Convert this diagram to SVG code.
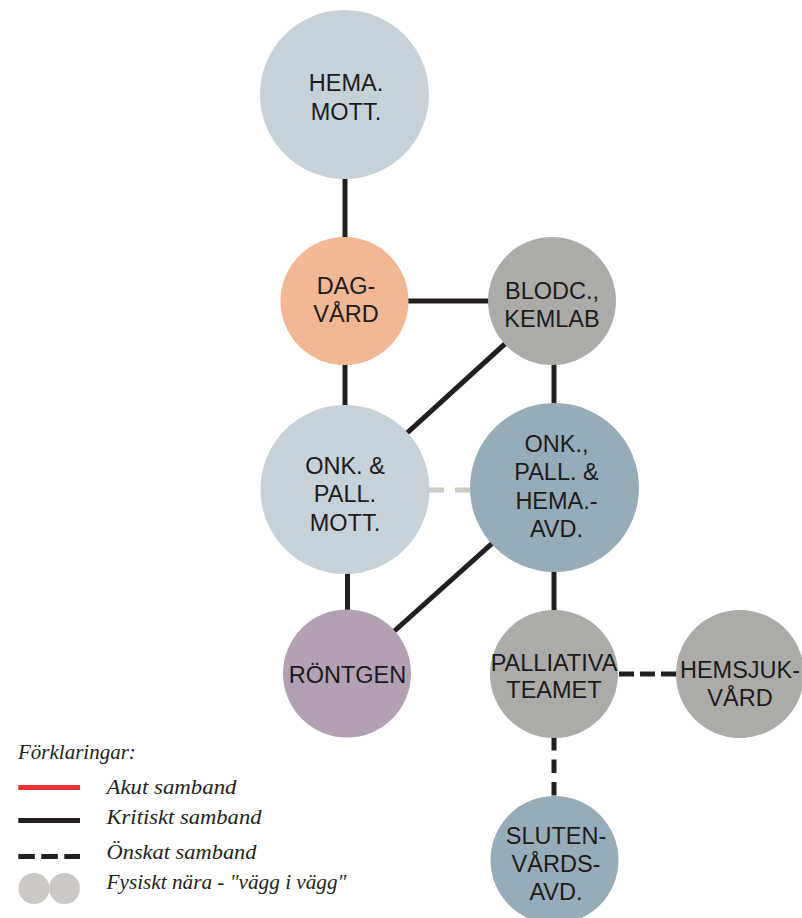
<svg xmlns="http://www.w3.org/2000/svg" width="802" height="918" viewBox="0 0 802 918">
  <style>
    .link { stroke: #231f20; stroke-width: 5; fill: none; }
    .wish { stroke: #231f20; stroke-width: 5; fill: none; }
    .near { stroke: #cdcac5; stroke-width: 5; fill: none; }
    .lbl { font-family: "Liberation Sans", Arial, sans-serif; font-size: 23.5px; fill: #1d1b1c; text-anchor: middle; }
    .leg { font-family: "Liberation Serif", "Times New Roman", serif; font-style: italic; font-size: 21px; fill: #231f20; }
    .mott { fill: #c5d2da; }
    .dag { fill: #f2b793; }
    .grey { fill: #acaba7; }
    .avd { fill: #96adb9; }
    .rtg { fill: #b3a0b4; }
  </style>

  <rect width="802" height="918" fill="#ffffff"/>

  <!-- connectors -->
  <g id="connectors">
    <line class="link" x1="345" y1="170" x2="345" y2="245"/>
    <line class="link" x1="400" y1="301" x2="495" y2="301"/>
    <line class="link" x1="345" y1="355" x2="345" y2="415"/>
    <line class="link" x1="552" y1="301" x2="345" y2="489.5"/>
    <line class="link" x1="554" y1="355" x2="554" y2="415"/>
    <line class="near" x1="429" y1="490" x2="470" y2="490" stroke-dasharray="15 11"/>
    <line class="link" x1="347.5" y1="565" x2="347.5" y2="620"/>
    <line class="link" x1="347" y1="673.5" x2="554.5" y2="487.5"/>
    <line class="link" x1="554" y1="565" x2="554" y2="620"/>
    <line class="wish" x1="619" y1="674" x2="677" y2="674" stroke-dasharray="15 6"/>
    <line class="wish" x1="554" y1="737" x2="554" y2="797" stroke-dasharray="13.5 9"/>
  </g>

  <!-- nodes -->
  <g id="hema-mott">
    <circle class="mott" cx="344.5" cy="94.5" r="84.5"/>
    <text class="lbl" x="346" y="90.5">HEMA.</text>
    <text class="lbl" x="346" y="119.5">MOTT.</text>
  </g>

  <g id="dagvard">
    <circle class="dag" cx="344.5" cy="301" r="64"/>
    <text class="lbl" x="346" y="293.5">DAG-</text>
    <text class="lbl" x="346" y="321.5">VÅRD</text>
  </g>

  <g id="blodc-kemlab">
    <circle class="grey" cx="552" cy="301" r="64"/>
    <text class="lbl" x="552" y="298.5">BLODC.,</text>
    <text class="lbl" x="552" y="327">KEMLAB</text>
  </g>

  <g id="onk-pall-mott">
    <circle class="mott" cx="345" cy="489.5" r="84.5"/>
    <text class="lbl" x="345" y="473.5">ONK. &amp;</text>
    <text class="lbl" x="345" y="502">PALL.</text>
    <text class="lbl" x="345" y="530.5">MOTT.</text>
  </g>

  <g id="onk-pall-hema-avd">
    <circle class="avd" cx="554.5" cy="487.5" r="84.5"/>
    <text class="lbl" x="556.5" y="451.5">ONK.,</text>
    <text class="lbl" x="556.5" y="480">PALL. &amp;</text>
    <text class="lbl" x="556.5" y="508.5">HEMA.-</text>
    <text class="lbl" x="556.5" y="537">AVD.</text>
  </g>

  <g id="rontgen">
    <circle class="rtg" cx="347" cy="673.5" r="64"/>
    <text class="lbl" x="347.5" y="683">RÖNTGEN</text>
  </g>

  <g id="palliativa-teamet">
    <circle class="grey" cx="554" cy="674" r="64"/>
    <text class="lbl" x="554" y="670.5">PALLIATIVA</text>
    <text class="lbl" x="554" y="698">TEAMET</text>
  </g>

  <g id="hemsjukvard">
    <circle class="grey" cx="740" cy="674" r="64"/>
    <text class="lbl" x="740" y="677.5">HEMSJUK-</text>
    <text class="lbl" x="740" y="705.5">VÅRD</text>
  </g>

  <g id="slutenvards-avd">
    <circle class="avd" cx="554.5" cy="860" r="64"/>
    <text class="lbl" x="556" y="843.5">SLUTEN-</text>
    <text class="lbl" x="556" y="872">VÅRDS-</text>
    <text class="lbl" x="556" y="900">AVD.</text>
  </g>

  <!-- legend -->
  <g id="legend">
    <text class="leg" x="18" y="759">Förklaringar:</text>
    <line x1="18.3" y1="787.5" x2="80" y2="787.5" stroke="#e93232" stroke-width="5"/>
    <text class="leg" x="106.5" y="793.5" textLength="130" lengthAdjust="spacingAndGlyphs">Akut samband</text>
    <line x1="18.3" y1="820.5" x2="80" y2="820.5" stroke="#231f20" stroke-width="5"/>
    <text class="leg" x="106.5" y="824" textLength="155" lengthAdjust="spacingAndGlyphs">Kritiskt samband</text>
    <line x1="18.3" y1="856.5" x2="80" y2="856.5" stroke="#231f20" stroke-width="5" stroke-dasharray="16.5 6.5"/>
    <text class="leg" x="106.5" y="859" textLength="150" lengthAdjust="spacingAndGlyphs">Önskat samband</text>
    <circle cx="34" cy="888.5" r="15.5" fill="#ccc9c5"/>
    <circle cx="64.5" cy="888.5" r="15.5" fill="#ccc9c5"/>
    <text class="leg" x="106.5" y="889" textLength="240" lengthAdjust="spacingAndGlyphs">Fysiskt nära - "vägg i vägg"</text>
  </g>
</svg>
